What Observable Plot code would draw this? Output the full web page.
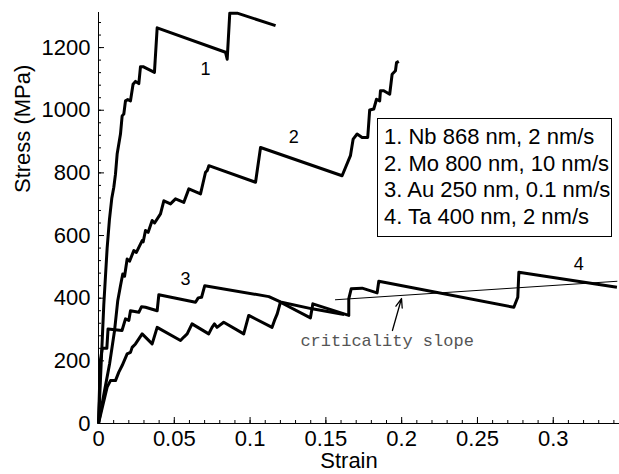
<!DOCTYPE html>
<html><head><meta charset="utf-8">
<script src="https://cdn.jsdelivr.net/npm/d3@7"></script>
<script src="https://cdn.jsdelivr.net/npm/@observablehq/plot@0.6"></script>
<style>
body{margin:0;background:#fff;}
#wrap{position:relative;width:619px;height:474px;}
#legend{position:absolute;left:377px;top:118px;width:235px;height:119px;box-sizing:border-box;border:1px solid #000;background:#fff;font-family:"Liberation Sans",Arial,sans-serif;font-size:22px;padding:5px 0 0 6px;line-height:26.5px;white-space:nowrap;color:#000;}
</style></head><body>
<div id="wrap"><div id="chart"></div><div id="legend"></div></div>
<script>
// ---- data ----
const legendItems = ["1. Nb 868 nm, 2 nm/s", "2. Mo 800 nm, 10 nm/s", "3. Au 250 nm, 0.1 nm/s", "4. Ta 400 nm, 2 nm/s"];

const nbStrain = [0, 0.0012, 0.0024, 0.0035, 0.0046, 0.0057, 0.0072, 0.0088, 0.0101, 0.0112, 0.0123, 0.0145, 0.0156, 0.0167, 0.0178, 0.0193, 0.0211, 0.0228, 0.0244, 0.0266, 0.0277, 0.0294, 0.0369, 0.0387, 0.0838, 0.0849, 0.0866, 0.0915, 0.1168];
const nbStress = [0, 130, 260, 380, 470, 560, 650, 720, 754, 796, 860, 924, 982, 988, 1030, 1034, 1030, 1083, 1092, 1085, 1139, 1139, 1121, 1263, 1185, 1163, 1310, 1310, 1270];

const moStrain = [0, 0.004, 0.0073, 0.0106, 0.0127, 0.0145, 0.016, 0.0172, 0.0189, 0.0205, 0.0233, 0.025, 0.0288, 0.0295, 0.031, 0.0327, 0.0354, 0.037, 0.0409, 0.0431, 0.0475, 0.0508, 0.0563, 0.0596, 0.0673, 0.0706, 0.0717, 0.0728, 0.1036, 0.1069, 0.1607, 0.1662, 0.168, 0.1706, 0.1739, 0.1776, 0.1789, 0.1816, 0.1834, 0.1855, 0.186, 0.1882, 0.1921, 0.1937, 0.1959, 0.1966, 0.1981];
const moStress = [0, 105, 190, 297, 392, 440, 477, 470, 525, 518, 552, 546, 584, 580, 616, 610, 648, 640, 669, 711, 701, 717, 706, 749, 733, 802, 807, 823, 770, 881, 791, 855, 908, 924, 913, 913, 1001, 1004, 1035, 1030, 1062, 1062, 1051, 1115, 1126, 1152, 1156];

const auStrain = [0, 0.0012, 0.0025, 0.0055, 0.0063, 0.0155, 0.0178, 0.02, 0.0211, 0.0266, 0.0284, 0.031, 0.0387, 0.0398, 0.064, 0.0658, 0.068, 0.0701, 0.1124, 0.12, 0.141, 0.162];
const auStress = [0, 200, 240, 240, 302, 297, 334, 329, 360, 355, 373, 371, 360, 411, 387, 401, 403, 440, 405, 388, 366, 348];

const taStrain = [0, 0.0057, 0.0079, 0.0112, 0.0134, 0.0156, 0.0189, 0.0211, 0.0222, 0.0244, 0.0288, 0.0354, 0.0387, 0.0541, 0.0563, 0.0585, 0.0617, 0.0727, 0.0749, 0.0765, 0.0782, 0.0826, 0.0958, 0.0991, 0.1145, 0.1161, 0.1179, 0.12, 0.1398, 0.1414, 0.1651, 0.1651, 0.1667, 0.1739, 0.1838, 0.1849, 0.274, 0.2766, 0.2773, 0.342];
const taStress = [0, 116, 137, 137, 164, 185, 222, 227, 243, 254, 286, 254, 307, 265, 276, 286, 318, 286, 307, 318, 307, 323, 286, 345, 307, 329, 350, 387, 337, 382, 345, 398, 430, 432, 417, 454, 371, 403, 483, 435];

const critStrain = [0.1563, 0.342];
const critStress = [395, 454];

const arrowStrain = [0.1939, 0.1999];
const arrowStress = [297, 399];

const noteText = ["criticality slope"];
const noteStrain = [0.1332];
const noteStress = [265];

const curveLabels = ["1", "2", "3", "4"];
const labelStrain = [0.0706, 0.1288, 0.0574, 0.3168];
const labelStress = [1131, 913, 461, 509];

const xMajorTicks = [0, 0.05, 0.1, 0.15, 0.2, 0.25, 0.3];
const xMinorTicks = d3.range(0, 0.345, 0.01);
const yMajorTicks = [0, 200, 400, 600, 800, 1000, 1200];
const yMinorTicks = d3.range(0, 1312, 40);

// ---- build ----
function toRows(name, xs, ys) { return xs.map((x, i) => ({curve: name, strain: x, stress: ys[i]})); }
const rows = [
  ...toRows("Nb", nbStrain, nbStress),
  ...toRows("Mo", moStrain, moStress),
  ...toRows("Au", auStrain, auStress),
  ...toRows("Ta", taStrain, taStress)
];
const crit = toRows("crit", critStrain, critStress);
const labels = curveLabels.map((t, i) => ({t, x: labelStrain[i], y: labelStress[i]}));
const notes = noteText.map((t, i) => ({t, x: noteStrain[i], y: noteStress[i]}));
const arrows = [{x1: arrowStrain[0], y1: arrowStress[0], x2: arrowStrain[1], y2: arrowStress[1]}];

const W = 619, H = 474, ML = 98, MR = 0, MT = 12, MB = 51;
const frameW = W - ML - MR, frameH = H - MT - MB;
const font = "Liberation Sans, Arial, Helvetica, sans-serif";
const chart = Plot.plot({
  width: W, height: H,
  marginLeft: ML, marginRight: MR, marginTop: MT, marginBottom: MB,
  style: {fontSize: "22px", fontFamily: font, background: "#fff", color: "#000"},
  x: {domain: [0, 0.3437]},
  y: {domain: [0, 1312]},
  marks: [
    Plot.axisX({ticks: xMajorTicks, tickSize: 0, tickPadding: 7, tickFormat: d => String(+d.toFixed(2)), label: null}),
    Plot.axisY({ticks: yMajorTicks, tickSize: 0, tickPadding: 8, tickFormat: d => String(d), label: null}),
    // inward tick marks
    Plot.tickX(xMinorTicks, {x: d => d, stroke: "#000", strokeWidth: 1, insetTop: frameH - 3}),
    Plot.tickX(xMajorTicks, {x: d => d, stroke: "#000", strokeWidth: 1, insetTop: frameH - 6}),
    Plot.tickY(yMinorTicks, {y: d => d, stroke: "#000", strokeWidth: 1, insetRight: frameW - 3}),
    Plot.tickY(yMajorTicks, {y: d => d, stroke: "#000", strokeWidth: 1, insetRight: frameW - 6}),
    Plot.ruleX([0], {stroke: "#000", strokeWidth: 1}),
    Plot.ruleY([0], {stroke: "#000", strokeWidth: 1}),
    Plot.line(crit, {x: "strain", y: "stress", stroke: "#000", strokeWidth: 1}),
    Plot.line(rows, {x: "strain", y: "stress", z: "curve", stroke: "#000", strokeWidth: 3, strokeLinejoin: "round", strokeLinecap: "butt"}),
    Plot.arrow(arrows, {x1: "x1", y1: "y1", x2: "x2", y2: "y2", stroke: "#000", strokeWidth: 1.3, headLength: 11, headAngle: 40}),
    Plot.text(labels, {x: "x", y: "y", text: "t", fontSize: 18, fill: "#000"}),
    Plot.text(notes, {x: "x", y: "y", text: "t", fontSize: 17, fontFamily: "Liberation Mono, Courier New, monospace", fill: "#555", textAnchor: "start"}),
    Plot.text(["Stress (MPa)"], {frameAnchor: "left", rotate: -90, dx: -76, dy: -25, fontSize: 22, fill: "#000"}),
    Plot.text(["Strain"], {frameAnchor: "bottom", dx: -10, dy: 44, fontSize: 22, fill: "#000"})
  ]
});
document.getElementById("chart").appendChild(chart);
document.getElementById("legend").innerHTML = legendItems.map(s => `<div>${s}</div>`).join("");
</script>
</body></html>
